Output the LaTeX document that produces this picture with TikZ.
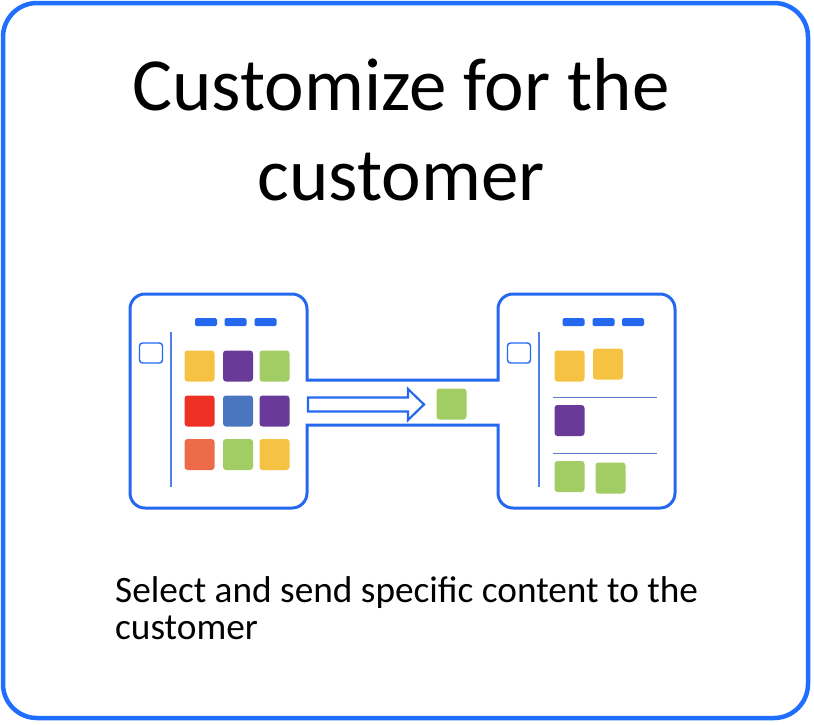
\documentclass[tikz,border=0pt]{standalone}
\usepackage{fontspec}
\setmainfont{Carlito}
\usepackage{xcolor}
\usepackage{tikz}

\definecolor{frameblue}{HTML}{1F6EFF}
\definecolor{screenblue}{HTML}{2468F0}
\definecolor{railblue}{HTML}{4F80E8}
\definecolor{sepblue}{HTML}{5E7CC8}
\definecolor{tyellow}{HTML}{F6C243}
\definecolor{tpurple}{HTML}{6A3A99}
\definecolor{tgreen}{HTML}{A2CD64}
\definecolor{tred}{HTML}{EE3124}
\definecolor{tblue}{HTML}{4A76BF}
\definecolor{torange}{HTML}{EC6B48}

\begin{document}
\begin{tikzpicture}[x=1pt, y=-1pt,
    tile/.style={rounded corners=3pt, minimum width=30pt, minimum height=31pt, inner sep=0pt},
    tabbar/.style={fill=screenblue, rounded corners=1.5pt, minimum width=22pt, minimum height=8pt, inner sep=0pt},
    checkbox/.style={draw=screenblue, line width=1.4pt, rounded corners=3pt, minimum width=23pt, minimum height=20pt, inner sep=0pt},
    screen/.style={draw=screenblue, line width=3pt}]
        % Page size and outer frame
        \useasboundingbox (0,0) rectangle (814,724);
        \draw[frameblue, line width=4.5pt, rounded corners=34pt] (3,3) rectangle (808,718);
        
        % Title and caption
        \node[anchor=base, inner sep=0pt, font=\fontsize{75}{90}\selectfont] (title1) at (401,110) {Customize for the};
        \node[anchor=base, inner sep=0pt, font=\fontsize{75}{90}\selectfont] (title2) at (401,200) {customer};
        \node[anchor=base west, inner sep=0pt, font=\fontsize{37.3}{44}\selectfont] (caption1) at (115,602) {Select and send specific content to the};
        \node[anchor=base west, inner sep=0pt, font=\fontsize{37.3}{44}\selectfont] (caption2) at (115,639) {customer};
        
        % Both screens joined by a channel (sharp corners at the joins)
        \draw[screen] (130,400) [rounded corners=15pt] |- (307,294) -- (307,340)
            [sharp corners] -- (307,380) -- (498,380) -- (498,340)
            [rounded corners=15pt] |- (675,294) -- (675,508) -- (498,508) -- (498,460)
            [sharp corners] -- (498,425) -- (307,425) -- (307,460)
            [rounded corners=15pt] |- (130,508) -- cycle;
        
        % Left screen: tabs, checkbox and side rail
        \node[tabbar] (ltab1) at (206,322) {};
        \node[tabbar] (ltab2) at (235.5,322) {};
        \node[tabbar] (ltab3) at (265.5,322) {};
        \node[checkbox] (lbox) at (151,353) {};
        \draw[railblue, line width=1.5pt] (171,332) -- (171,487);
        
        % Left screen: all the content
        \node[tile, fill=tyellow] (l11) at (199.5,366) {};
        \node[tile, fill=tpurple] (l12) at (238,366) {};
        \node[tile, fill=tgreen]  (l13) at (274.5,366) {};
        \node[tile, fill=tred]    (l21) at (199.5,411) {};
        \node[tile, fill=tblue]   (l22) at (238,411) {};
        \node[tile, fill=tpurple] (l23) at (274.5,411) {};
        \node[tile, fill=torange] (l31) at (199.5,454.5) {};
        \node[tile, fill=tgreen]  (l32) at (238,454.5) {};
        \node[tile, fill=tyellow] (l33) at (274.5,454.5) {};
        
        % Hollow arrow and the item being sent
        \draw[screenblue, line width=2.2pt, line join=miter] (308,397.5) -- (408,397.5) -- (408,389)
            -- (424,404.5) -- (408,420) -- (408,411.5) -- (308,411.5) -- cycle;
        \node[tile, fill=tgreen] (item) at (451.5,404) {};
        
        % Right screen: tabs, checkbox and side rail
        \node[tabbar] (rtab1) at (573.5,322) {};
        \node[tabbar] (rtab2) at (603.5,322) {};
        \node[tabbar] (rtab3) at (633,322) {};
        \node[checkbox] (rbox) at (519,353) {};
        \draw[railblue, line width=1.5pt] (539,332) -- (539,487);
        
        % Right screen: selected content in groups
        \node[tile, fill=tyellow] (r11) at (569.5,366) {};
        \node[tile, fill=tyellow] (r12) at (608,364) {};
        \draw[sepblue, line width=1pt] (553,397) -- (657,397);
        \node[tile, fill=tpurple] (r21) at (569.5,420.5) {};
        \draw[sepblue, line width=1pt] (553,453) -- (657,453);
        \node[tile, fill=tgreen]  (r31) at (569.5,476.5) {};
        \node[tile, fill=tgreen]  (r32) at (610.5,478) {};
        
    \end{tikzpicture}
\end{document}
